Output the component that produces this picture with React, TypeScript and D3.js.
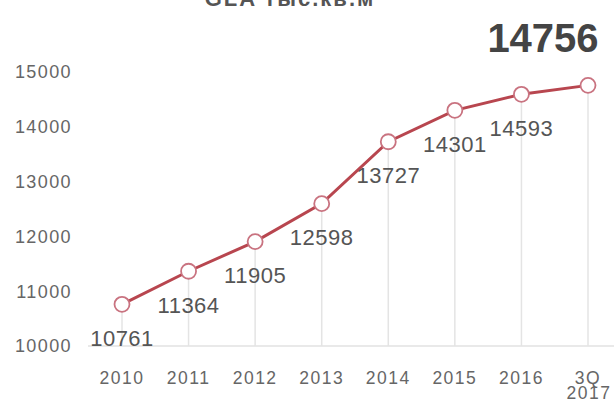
import React from "react";
import * as d3 from "d3";

const categories = ["2010", "2011", "2012", "2013", "2014", "2015", "2016", "3Q 2017"];
const values = [10761, 11364, 11905, 12598, 13727, 14301, 14593, 14756];
const yTicks = [10000, 11000, 12000, 13000, 14000, 15000];
const title = "GLA тыс.кв.м";

const W = 614;
const H = 402;

export default function App() {
  const x = d3.scalePoint<string>().domain(categories).range([122, 588]);
  const y = d3.scaleLinear().domain([10000, 15000]).range([346, 72]);
  const line = d3
    .line<number>()
    .x((_, i) => x(categories[i]) as number)
    .y((d) => y(d));
  const last = values.length - 1;
  const font = "Arial, 'Liberation Sans', sans-serif";

  return (
    <svg
      width={W}
      height={H}
      style={{ position: "absolute", left: 0, top: 0, background: "#fff" }}
      fontFamily={font}
    >
      <text x={290} y={6} textAnchor="middle" fontSize={22} fontWeight="bold" fill="#555" letterSpacing={2}>
        {title}
      </text>
      <line x1={88} x2={W} y1={y(10000)} y2={y(10000)} stroke="#e2e2e2" strokeWidth={1.5} />
      {values.map((v, i) => (
        <line
          key={"g" + i}
          x1={x(categories[i])}
          x2={x(categories[i])}
          y1={y(v)}
          y2={y(10000)}
          stroke="#e4e4e4"
          strokeWidth={1.5}
        />
      ))}
      {yTicks.map((t) => (
        <text key={t} x={72} y={y(t)} dy="0.35em" textAnchor="end" fontSize={18} fill="#666" letterSpacing={1.4}>
          {t}
        </text>
      ))}
      {categories.map((c) => {
        const parts = c.split(" ");
        return (
          <text key={c} x={x(c)} y={384} dy="0.35em" textAnchor="middle" fontSize={17.5} fill="#666" letterSpacing={1.5}>
            {parts.map((p, j) => (
              <tspan key={j} x={(x(c) as number) + (j > 0 ? 1 : 0)} dy={j === 0 ? 0 : 15}>
                {p}
              </tspan>
            ))}
          </text>
        );
      })}
      <path d={line(values) || ""} fill="none" stroke="#b8464f" strokeWidth={3} />
      {values.map((v, i) => (
        <circle
          key={"c" + i}
          cx={x(categories[i])}
          cy={y(v)}
          r={7.5}
          fill="#fff"
          stroke="#c97380"
          strokeWidth={1.8}
        />
      ))}
      {values.slice(0, last).map((v, i) => (
        <text
          key={"l" + i}
          x={x(categories[i])}
          y={y(v) + 34}
          dy="0.35em"
          textAnchor="middle"
          fontSize={22}
          fill="#555"
          letterSpacing={0.5}
        >
          {v}
        </text>
      ))}
      <text
        x={(x(categories[last]) as number) - 45}
        y={y(values[last]) - 47}
        dy="0.35em"
        textAnchor="middle"
        fontSize={40}
        fontWeight="bold"
        fill="#444"
      >
        {values[last]}
      </text>
    </svg>
  );
}
